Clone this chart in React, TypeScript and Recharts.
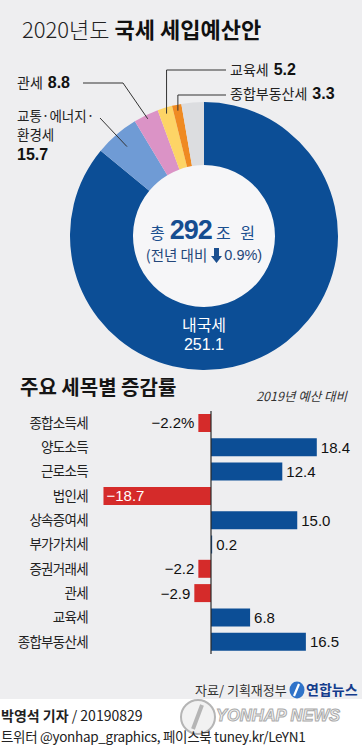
import React from 'react';
import { PieChart, Pie, Cell, BarChart, Bar, XAxis, YAxis, ReferenceLine, LabelList } from 'recharts';

// ---- Donut data (조 원) ----
const shareNames = ['내국세', '교통·에너지·환경세', '관세', '교육세', '종합부동산세', '기타'];
const shareValues = [251.1, 15.7, 8.8, 5.2, 3.3, 7.9];
const shareColors = ['#0c4e96', '#6f9bd5', '#db93c6', '#fdd466', '#ef8a22', '#dcdde0'];

// ---- Bar data (% change vs 2019 budget) ----
const rateCategories = ['종합소득세', '양도소득', '근로소득', '법인세', '상속증여세', '부가가치세', '증권거래세', '관세', '교육세', '종합부동산세'];
const rateValues = [-2.2, 18.4, 12.4, -18.7, 15.0, 0.2, -2.2, -2.9, 6.8, 16.5];
const rateDomain = [-20, 20];

const totalText = '292';
const changeText = '0.9%';

const shareData = shareNames.map((name, i) => ({ name, value: shareValues[i] }));
const rateData = rateCategories.map((name, i) => ({ name, value: rateValues[i] }));

const KR = '"Noto Sans CJK KR", "Noto Sans", sans-serif';
const NUM = '"Liberation Sans", Arial, sans-serif';
const BLUE = '#0c4e96';
const RED = '#d52b2a';

type Lay = { r: number; path: [number, number][]; x: number; y: number; lines: string[]; valueOwnLine?: boolean };
const pieLabelLayout: Record<string, Lay> = {
  '교통·에너지·환경세': { r: 118, path: [[100, 118]], x: 17, y: 116, lines: ['교통·에너지·', '환경세'], valueOwnLine: true },
  '관세': { r: 130, path: [[123, 83], [83, 83]], x: 17, y: 83, lines: ['관세'] },
  '교육세': { r: 128, path: [[0, 70], [226, 70]], x: 230, y: 70, lines: ['교육세'] },
  '종합부동산세': { r: 128, path: [[0, 95], [226, 95]], x: 230, y: 94, lines: ['종합부동산세'] },
};

const fmtRate = (v: number) => (v < 0 ? '\u2212' : '') + Math.abs(v).toFixed(1);

const renderPieLabel = (props: any) => {
  const { cx, cy, midAngle } = props;
  const name = props.payload?.name ?? props.name;
  const value = props.payload?.value ?? props.value;
  if (name === '내국세') {
    return (
      <g>
        <text x={cx} y={cy + 89} dy="0.35em" textAnchor="middle" fill="#fff" fontFamily={KR} fontSize={16}>
          {name}
          <tspan x={cx} dy={19} fontFamily={NUM}>{value.toFixed(1)}</tspan>
        </text>
      </g>
    );
  }
  const lay = pieLabelLayout[name];
  if (!lay) return null;
  const rad = (-midAngle * Math.PI) / 180;
  const sx = cx + lay.r * Math.cos(rad);
  const sy = cy + lay.r * Math.sin(rad);
  const pts: [number, number][] = [[sx, sy]];
  lay.path.forEach(([px, py]) => pts.push([px === 0 ? sx : px, py]));
  const vtxt = value.toFixed(1);
  return (
    <g>
      <polyline points={pts.map((p) => p.join(',')).join(' ')} fill="none" stroke="#333" strokeWidth={1} />
      {lay.valueOwnLine ? (
        <g>
          {lay.lines.map((l, i) => (
            <text key={i} x={lay.x} y={lay.y + i * 19.6} dy="0.35em" fill="#222" fontFamily={KR} fontSize={13.5}>{l}</text>
          ))}
          <text x={lay.x} y={lay.y + (lay.lines.length - 1) * 19.6 + 19} dy="0.35em" fill="#111" fontFamily={NUM} fontWeight="bold" fontSize={16}>{vtxt}</text>
        </g>
      ) : (
        <text x={lay.x} y={lay.y} dy="0.35em" fill="#222" fontFamily={KR} fontSize={14}>
          {lay.lines[0]}
          <tspan dx={5} fontFamily={NUM} fontWeight="bold" fontSize={16} fill="#111">{vtxt}</tspan>
        </text>
      )}
    </g>
  );
};

const renderBarLabel = (props: any) => {
  const { x, y, width, height, value, index } = props;
  const left = Math.min(x, x + width);
  const right = Math.max(x, x + width);
  const my = y + height / 2;
  const txt = fmtRate(value) + (index === 0 ? '%' : '');
  const common = { y: my, dy: '0.36em', fontFamily: NUM, fontSize: 15 } as any;
  if (value >= 0) return <text {...common} x={right + 4} textAnchor="start" fill="#111">{txt}</text>;
  if (value < -10) return <text {...common} x={left + 3} textAnchor="start" fill="#fff">{txt}</text>;
  return <text {...common} x={left - 4} textAnchor="end" fill="#111">{txt}</text>;
};

const CatTick = (props: any) => {
  const { x, y, payload } = props;
  return (
    <text x={x} y={y} dy="0.35em" textAnchor="end" fill="#222" fontFamily={KR} fontSize={13.5} letterSpacing={-0.7}>
      {payload.value}
    </text>
  );
};

const abs = (left: number, top: number, extra: React.CSSProperties = {}): React.CSSProperties => ({
  position: 'absolute', left, top, whiteSpace: 'nowrap', ...extra,
});

export default function App() {
  return (
    <div style={{ position: 'absolute', left: 0, top: 0, width: 362, height: 750, background: '#fff', fontFamily: KR, overflow: 'hidden' }}>
      <div style={{ position: 'absolute', left: 0, top: 0, width: 362, height: 699, background: '#eeeef0' }} />

      {/* Title */}
      <div style={abs(22, 13, { fontSize: 22, lineHeight: '30px', color: '#222' })}>
        <span style={{ fontWeight: 300 }}>2020년도</span>{' '}
        <span style={{ fontWeight: 700, color: '#111' }}>국세 세입예산안</span>
      </div>

      {/* Donut */}
      <div style={abs(0, 0)}>
        <PieChart width={362} height={380} margin={{ top: 0, right: 0, bottom: 0, left: 0 }}>
          <Pie data={[{ name: 'bg', value: 1 }]} dataKey="value" cx={204} cy={236} innerRadius={0} outerRadius={71}
            fill="#f6f6f8" stroke="none" isAnimationActive={false} />
          <Pie data={shareData} dataKey="value" nameKey="name" cx={204} cy={236} innerRadius={71} outerRadius={134}
            startAngle={90} endAngle={-270} stroke="none" isAnimationActive={false}
            label={renderPieLabel} labelLine={false}>
            {shareData.map((d, i) => (
              <Cell key={d.name} fill={shareColors[i]} />
            ))}
          </Pie>
        </PieChart>
      </div>

      {/* Center text */}
      <div style={abs(124, 214, { width: 160, display: 'flex', justifyContent: 'center', alignItems: 'baseline', color: '#1b4f8f', lineHeight: '32px' })}>
        <span style={{ fontSize: 16 }}>총</span>
        <span style={{ fontSize: 27, fontWeight: 700, fontFamily: NUM, letterSpacing: -1, margin: '0 4px 0 5px', color: '#164d90' }}>{totalText}</span>
        <span style={{ fontSize: 16, letterSpacing: 3 }}>조 원</span>
      </div>
      <div style={abs(114, 246, { width: 180, display: 'flex', justifyContent: 'center', alignItems: 'center', color: '#24477a', fontSize: 14.5, lineHeight: '18px' })}>
        <span>(전년 대비</span>
        <svg width={11} height={15} style={{ margin: '0 2px 0 4px' }}>
          <polygon points="3,0 8,0 8,8 11,8 5.5,15 0,8 3,8" fill="#1b4f8f" />
        </svg>
        <span style={{ fontFamily: NUM }}>{changeText})</span>
      </div>

      {/* Bar section heading */}
      <div style={abs(20, 374, { fontSize: 20, lineHeight: '26px', fontWeight: 700, color: '#151515' })}>주요 세목별 증감률</div>
      <div style={{ position: 'absolute', right: 15, top: 388, fontSize: 12.5, lineHeight: '16px', fontStyle: 'italic', color: '#333', whiteSpace: 'nowrap' }}>
        2019년 예산 대비
      </div>

      {/* Bars */}
      <div style={abs(0, 400)}>
        <BarChart width={362} height={270} data={rateData} layout="vertical" margin={{ top: 11, right: 36, bottom: 16, left: 0 }} barSize={18}>
          <XAxis type="number" domain={rateDomain} hide />
          <YAxis type="category" dataKey="name" width={96} axisLine={false} tickLine={false} tick={<CatTick />} interval={0} />
          <Bar dataKey="value" isAnimationActive={false}>
            {rateData.map((d) => (
              <Cell key={d.name} fill={d.value < 0 ? RED : BLUE} />
            ))}
            <LabelList dataKey="value" content={renderBarLabel} />
          </Bar>
          <ReferenceLine x={0} stroke="#2a2a2a" strokeWidth={1.2} ifOverflow="extendDomain" />
        </BarChart>
      </div>

      {/* Source + logo */}
      <div style={abs(195, 681, { fontSize: 13, lineHeight: '18px', color: '#333' })}>자료/ 기획재정부</div>
      <svg width={16} height={18} style={{ position: 'absolute', left: 289, top: 681 }}>
        <ellipse cx={8} cy={9} rx={7.5} ry={8.5} fill="#2f73c9" />
        <path d="M10 3 L5 15" stroke="#fff" strokeWidth={2.2} />
      </svg>
      <div style={abs(306, 680, { fontSize: 14, lineHeight: '19px', fontWeight: 700, color: '#143c8c' })}>연합뉴스</div>

      {/* Watermark */}
      <svg width={40} height={40} style={{ position: 'absolute', left: 178, top: 697 }}>
        <circle cx={20} cy={20} r={17} fill="#f2f2f2" stroke="#b5b5b5" strokeWidth={2} />
        <path d="M24 8 L15 32" stroke="#b5b5b5" strokeWidth={4} />
      </svg>
      <div style={abs(216, 705.5, { fontSize: 16.5, lineHeight: '18px', fontFamily: NUM, fontWeight: 900, fontStyle: 'italic', color: '#f4f4f4', WebkitTextStroke: '1px #aaa', letterSpacing: 0 } as any)}>
        YONHAP NEWS
      </div>

      {/* Footer */}
      <div style={abs(1, 706, { fontSize: 14, lineHeight: '18px', color: '#222' })}>
        <span style={{ fontWeight: 700 }}>박영석 기자</span> / 20190829
      </div>
      <div style={abs(1, 726.5, { fontSize: 13.5, lineHeight: '18px', color: '#222', letterSpacing: -0.3 })}>
        트위터 @yonhap_graphics, 페이스북 tuney.kr/LeYN1
      </div>
    </div>
  );
}
